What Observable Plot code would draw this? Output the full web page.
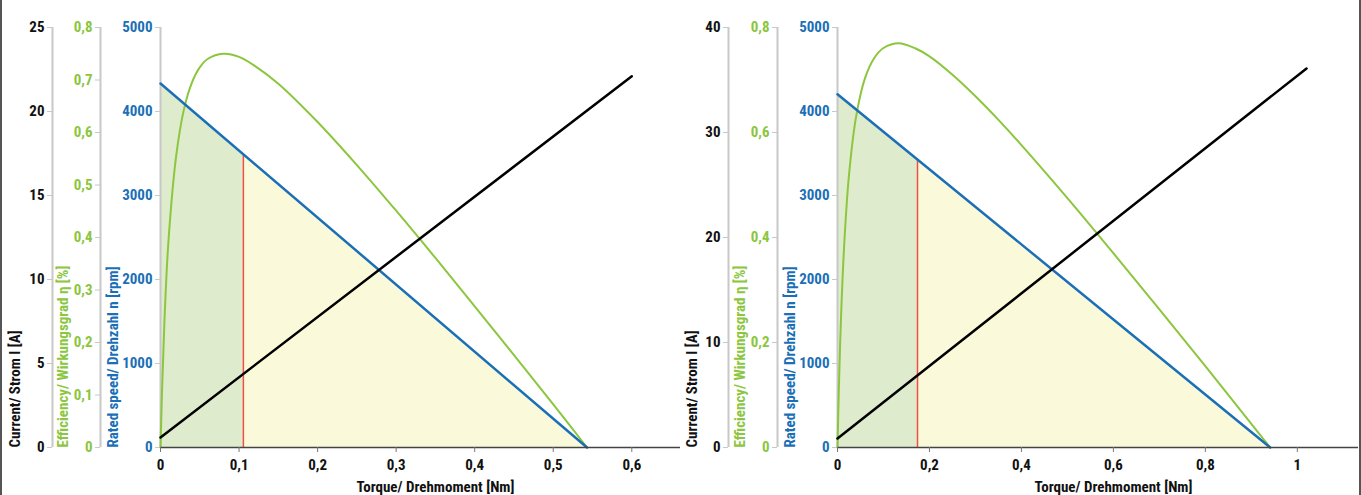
<!DOCTYPE html>
<html>
<head>
<meta charset="utf-8">
<script src="https://cdn.jsdelivr.net/npm/d3@7"></script>
<script src="https://cdn.jsdelivr.net/npm/@observablehq/plot@0.6"></script>
<style>
  html, body { margin: 0; padding: 0; background: #fff; }
  #wrap { position: relative; width: 1361px; height: 495px; overflow: hidden; }
  #left { position: absolute; left: 0; top: 0; }
  #right { position: absolute; left: 680px; top: 0; }
  .edge { position: absolute; top: 0; width: 2px; height: 495px; background: #555; }
</style>
</head>
<body>
<div id="wrap">
  <div id="left"></div>
  <div id="right"></div>
  <div class="edge" style="left:0"></div>
  <div class="edge" style="left:1359px"></div>
</div>
<script>
// ---------- Data: left motor ----------
const leftSpeedTorque = [0, 0.543];
const leftSpeedRpm = [4333, 0];
const leftRatedTorque = 0.1055;
const leftRatedRpm = 3490;
const leftCurrentTorque = [0, 0.6];
const leftCurrentA = [0.6, 22.1];
const leftEffTorque = [0, 0.002, 0.005, 0.01, 0.02, 0.03, 0.04, 0.05, 0.06, 0.08, 0.1, 0.12, 0.15, 0.2, 0.25, 0.3, 0.35, 0.4, 0.45, 0.5, 0.543];
const leftEff = [0, 0.11, 0.24, 0.39, 0.556, 0.645, 0.695, 0.724, 0.74, 0.75, 0.744, 0.727, 0.693, 0.62, 0.538, 0.451, 0.361, 0.269, 0.176, 0.082, 0];
const leftXTicks = [0, 0.1, 0.2, 0.3, 0.4, 0.5, 0.6];
const leftCurrentTicks = [0, 5, 10, 15, 20, 25];
const leftEffTicks = [0, 0.1, 0.2, 0.3, 0.4, 0.5, 0.6, 0.7, 0.8];
const leftCurrentMax = 25;
const leftXMax = 0.662;

// ---------- Data: right motor ----------
const rightSpeedTorque = [0, 0.941];
const rightSpeedRpm = [4205, 0];
const rightRatedTorque = 0.174;
const rightRatedRpm = 3430;
const rightCurrentTorque = [0, 1.02];
const rightCurrentA = [0.86, 36.1];
const rightEffTorque = [0, 0.003, 0.008, 0.015, 0.025, 0.04, 0.06, 0.08, 0.1, 0.133, 0.17, 0.2, 0.25, 0.3, 0.35, 0.4, 0.5, 0.6, 0.7, 0.8, 0.9, 0.941];
const rightEff = [0, 0.114, 0.256, 0.393, 0.519, 0.628, 0.704, 0.742, 0.761, 0.77, 0.76, 0.745, 0.71, 0.669, 0.624, 0.576, 0.475, 0.37, 0.263, 0.155, 0.045, 0];
const rightXTicks = [0, 0.2, 0.4, 0.6, 0.8, 1];
const rightCurrentTicks = [0, 10, 20, 30, 40];
const rightEffTicks = [0, 0.2, 0.4, 0.6, 0.8];
const rightCurrentMax = 40;
const rightXMax = 1.133;

const rpmTicks = [0, 1000, 2000, 3000, 4000, 5000];
const effMax = 0.8;
const rpmMax = 5000;

const xTitle = "Torque/ Drehmoment [Nm]";
const currentTitle = "Current/ Strom I [A]";
const effTitle = "Efficiency/ Wirkungsgrad η [%]";
const rpmTitle = "Rated speed/ Drehzahl n [rpm]";

const BLUE = "#1b6fb6", GREEN = "#8cc63f", BLACK = "#000", RED = "#ef4f45";
const GREY = "#c8c8c8";
const FONT = "'Roboto Condensed', 'Liberation Sans Narrow', 'Arial Narrow', 'DejaVu Sans Condensed', sans-serif";

const comma = v => v === 0 ? "0" : String(+v.toFixed(2)).replace(".", ",");

function chart(cfg) {
  const curScale = rpmMax / cfg.currentMax;
  const effScale = rpmMax / effMax;
  const speed = cfg.speedTorque.map((t, i) => ({t, n: cfg.speedRpm[i]}));
  const greenArea = [{t: cfg.speedTorque[0], n: cfg.speedRpm[0]}, {t: cfg.ratedTorque, n: cfg.ratedRpm}];
  const yellowArea = [{t: cfg.ratedTorque, n: cfg.ratedRpm}, {t: cfg.speedTorque[1], n: cfg.speedRpm[1]}];
  const eff = cfg.effTorque.map((t, i) => ({t, v: cfg.eff[i] * effScale}));
  const cur = cfg.currentTorque.map((t, i) => ({t, v: cfg.currentA[i] * curScale}));
  const yTickCommon = {anchor: "left", tickSize: 5, tickPadding: 3, stroke: GREY, fontWeight: "bold", fontSize: 15, label: null};
  return Plot.plot({
    width: cfg.width, height: 495,
    marginLeft: cfg.marginLeft, marginRight: cfg.marginRight, marginTop: 27, marginBottom: 48,
    x: {domain: [0, cfg.xMax], axis: null},
    y: {domain: [0, rpmMax], axis: null},
    style: {fontFamily: FONT, overflow: "visible", background: "transparent"},
    marks: [
      Plot.areaY(greenArea, {x: "t", y: "n", fill: "#dfebcd"}),
      Plot.areaY(yellowArea, {x: "t", y: "n", fill: "#fafadb"}),
      Plot.ruleX([{t: cfg.ratedTorque, n: cfg.ratedRpm}], {x: "t", y1: 0, y2: "n", stroke: RED, strokeWidth: 1.5}),
      // axis lines
      Plot.ruleX([0], {y1: 0, y2: rpmMax, stroke: GREY, strokeWidth: 2}),
      Plot.ruleX([0], {y1: 0, y2: rpmMax, stroke: GREY, strokeWidth: 2, dx: cfg.effDx}),
      Plot.ruleX([0], {y1: 0, y2: rpmMax, stroke: GREY, strokeWidth: 2, dx: cfg.curDx}),
      Plot.axisY(rpmTicks, {...yTickCommon, fill: BLUE, tickFormat: d => String(d)}),
      Plot.axisY(cfg.effTicks.map(v => v * effScale), {...yTickCommon, fill: GREEN, dx: cfg.effDx, tickFormat: d => comma(d / effScale)}),
      Plot.axisY(cfg.currentTicks.map(v => v * curScale), {...yTickCommon, fill: "#111", dx: cfg.curDx, tickFormat: d => comma(d / curScale)}),
      // axis titles
      Plot.text([currentTitle], {text: d => d, frameAnchor: "bottom-left", rotate: -90, textAnchor: "start", dx: cfg.curTitleDx, fill: "#111", fontWeight: "bold", fontSize: 15}),
      Plot.text([effTitle], {text: d => d, frameAnchor: "bottom-left", rotate: -90, textAnchor: "start", dx: cfg.effTitleDx, fill: GREEN, fontWeight: "bold", fontSize: 15}),
      Plot.text([rpmTitle], {text: d => d, frameAnchor: "bottom-left", rotate: -90, textAnchor: "start", dx: cfg.rpmTitleDx, fill: BLUE, fontWeight: "bold", fontSize: 15}),
      // curves
      Plot.line(eff, {x: "t", y: "v", stroke: GREEN, strokeWidth: 2, curve: "catmull-rom"}),
      Plot.line(speed, {x: "t", y: "n", stroke: BLUE, strokeWidth: 2.5}),
      Plot.line(cur, {x: "t", y: "v", stroke: BLACK, strokeWidth: 2.5}),
      // x axis
      Plot.ruleY([0], {x1: 0, x2: cfg.xMax, stroke: "#444", strokeWidth: 1.5}),
      Plot.axisX(cfg.xTicks, {anchor: "bottom", tickSize: 5, tickPadding: 7, stroke: "#777", fill: "#111", fontWeight: "bold", fontSize: 15, label: null, tickFormat: comma}),
      Plot.text([xTitle], {text: d => d, frameAnchor: "bottom-left", textAnchor: "middle", dx: cfg.xTitleDx, dy: 44, fill: "#111", fontWeight: "bold", fontSize: 15})
    ]
  });
}

document.getElementById("left").append(chart({
  width: 680, marginLeft: 160, marginRight: 0, xMax: leftXMax,
  speedTorque: leftSpeedTorque, speedRpm: leftSpeedRpm, ratedTorque: leftRatedTorque, ratedRpm: leftRatedRpm,
  currentTorque: leftCurrentTorque, currentA: leftCurrentA, currentMax: leftCurrentMax,
  effTorque: leftEffTorque, eff: leftEff, xTicks: leftXTicks, currentTicks: leftCurrentTicks, effTicks: leftEffTicks,
  effDx: -60, curDx: -108, curTitleDx: -141, effTitleDx: -93, rpmTitleDx: -43, xTitleDx: 275
}));
document.getElementById("right").append(chart({
  width: 681, marginLeft: 157, marginRight: 3, xMax: rightXMax,
  speedTorque: rightSpeedTorque, speedRpm: rightSpeedRpm, ratedTorque: rightRatedTorque, ratedRpm: rightRatedRpm,
  currentTorque: rightCurrentTorque, currentA: rightCurrentA, currentMax: rightCurrentMax,
  effTorque: rightEffTorque, eff: rightEff, xTicks: rightXTicks, currentTicks: rightCurrentTicks, effTicks: rightEffTicks,
  effDx: -60, curDx: -109, curTitleDx: -141, effTitleDx: -93, rpmTitleDx: -43, xTitleDx: 276
}));
</script>
</body>
</html>
